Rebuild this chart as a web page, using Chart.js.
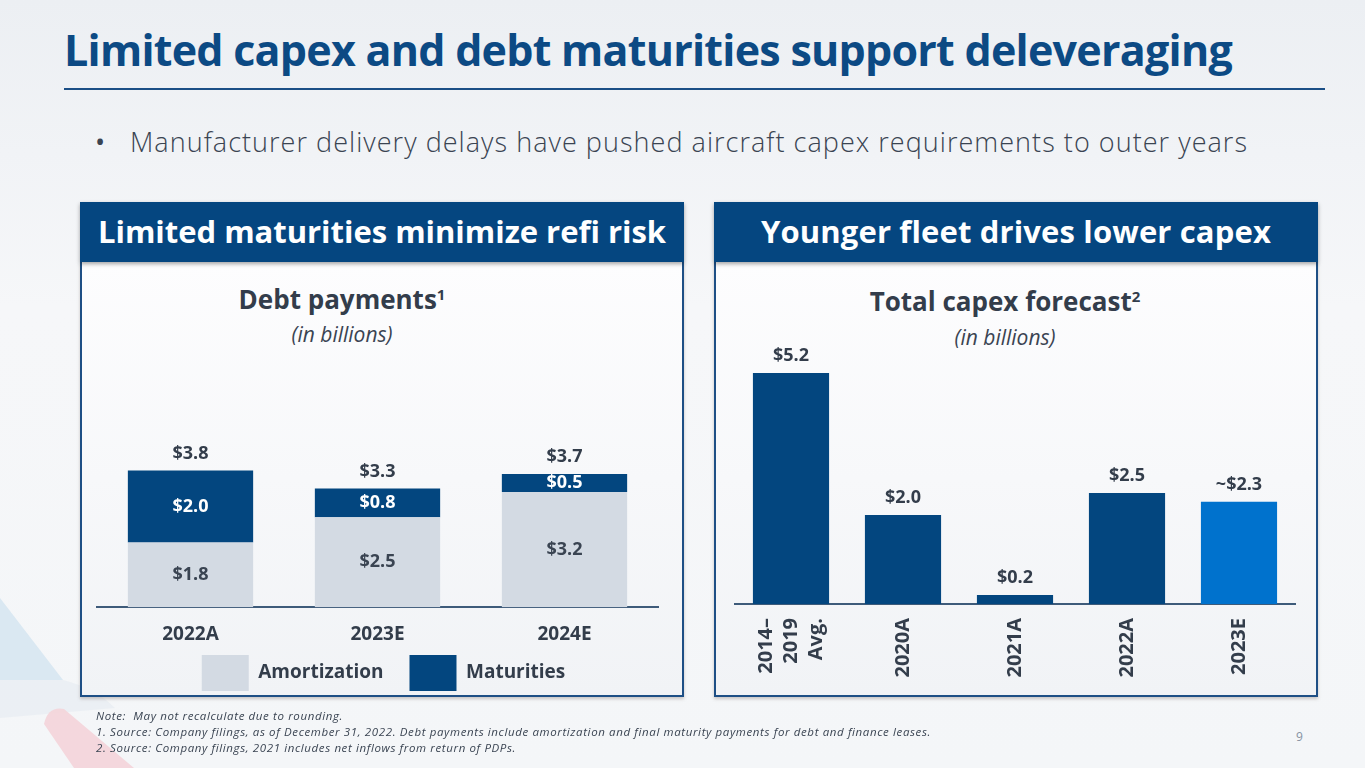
<!DOCTYPE html>
<html lang="en">
<head>
<meta charset="UTF-8">
<title>Limited capex and debt maturities support deleveraging</title>
<script src="https://cdn.jsdelivr.net/npm/chart.js"></script>
<style>
    body { margin: 0; width: 1365px; height: 768px; overflow: hidden; font-family: "Open Sans", sans-serif; }
    #slide { position: relative; width: 1365px; height: 768px; overflow: hidden;
        background: linear-gradient(180deg, #eceff3 0%, #f6f7f9 40%, #f4f6f8 100%); }
    .abs { position: absolute; white-space: nowrap; }
    #titulo { left: 64px; top: 28px; font-size: 43px; line-height: 44px; font-weight: 700; color: #0c4a84; }
    #linha { left: 64px; top: 88px; width: 1261px; height: 2px; background: #1b4f86; }
    #bullet { left: 95px; top: 124px; font-size: 27px; line-height: 36px; color: #3a4452; }
    #bullet .txt { position: absolute; left: 35px; font-weight: 300; }
    .cab { height: 60px; width: 604px; top: 202px; background: #054680; color: #fff; text-align: center;
        font-size: 31px; line-height: 58px; font-weight: 700; box-shadow: 0 2px 4px rgba(0,0,0,.35); z-index: 2; }
    .painel { top: 262px; width: 600px; height: 433px; border: 2px solid #1e4f85; border-top: none;
        background: linear-gradient(180deg, #fdfdfe 0%, #f1f3f6 100%); box-shadow: 0 2px 3px rgba(120,110,100,.35); }
    .titgraf { text-align: center; font-size: 26px; font-weight: 700; color: #333d4b; line-height: 30px; }
    .subgraf { text-align: center; font-size: 21px; font-style: italic; color: #3a4452; line-height: 28px; }
    .nota { left: 96px; font-size: 11.5px; font-style: italic; color: #3a4452; line-height: 16px; }
    canvas { position: absolute; }
</style>
</head>
<body>
<div id="slide">
    <svg class="abs" style="left:0;top:568px" width="200" height="200">
        <polygon points="0,30 63,112 0,112" fill="#d5e5f1" opacity="0.85"/>
        <path d="M0,112 L63,112 Q95,120 115,140 L0,150 Z" fill="#e9edf2" opacity="0.8"/>
        <path d="M44,156 Q48,138 64,141 L134,200 L74,200 Z" fill="#f4d4d9" opacity="0.9"/>
    </svg>

    <div id="titulo" class="abs"><span>Limited capex and debt maturities support deleveraging</span></div>
    <div id="linha" class="abs"></div>
    <div id="bullet" class="abs">•<span class="txt">Manufacturer delivery delays have pushed aircraft capex requirements to outer years</span></div>

    <div class="abs painel" style="left:80px"></div>
    <div class="abs cab" style="left:80px"><span id="cab1">Limited maturities minimize refi risk</span></div>
    <div class="abs titgraf" style="left:80px;width:524px;top:284px">Debt payments<sup style="font-size:15px;vertical-align:9px;line-height:0">1</sup></div>
    <div class="abs subgraf" style="left:80px;width:524px;top:320px">(in billions)</div>
    <canvas id="divida" style="left:88px;top:420px;width:584px;height:314px"></canvas>

    <div class="abs painel" style="left:714px"></div>
    <div class="abs cab" style="left:714px"><span id="cab2">Younger fleet drives lower capex</span></div>
    <div class="abs titgraf" style="left:714px;width:582px;top:286px">Total capex forecast<sup style="font-size:15px;vertical-align:9px;line-height:0">2</sup></div>
    <div class="abs subgraf" style="left:714px;width:582px;top:323px">(in billions)</div>
    <canvas id="capex" style="left:722px;top:340px;width:588px;height:350px"></canvas>

    <div class="abs nota" style="top:708px"><span class="n">Note:&nbsp; May not recalculate due to rounding.</span></div>
    <div class="abs nota" style="top:724px"><span class="n" id="nota1">1. Source: Company filings, as of December 31, 2022. Debt payments include amortization and final maturity payments for debt and finance leases.</span></div>
    <div class="abs nota" style="top:740px"><span class="n">2. Source: Company filings, 2021 includes net inflows from return of PDPs.</span></div>
    <div class="abs" style="left:1296px;top:728px;font-size:12px;color:#8792a2">9</div>
</div>

<script>
    // dados - pagamentos de divida
    const anosDivida = ['2022A', '2023E', '2024E'];
    const amortizacao = [1.8, 2.5, 3.2];
    const vencimentos = [2.0, 0.8, 0.5];
    const totaisDivida = ['$3.8', '$3.3', '$3.7'];

    // dados - capex
    const anosCapex = [['2014–', '2019', 'Avg.'], '2020A', '2021A', '2022A', '2023E'];
    const capex = [5.2, 2.0, 0.2, 2.5, 2.3];
    const rotulosCapex = ['$5.2', '$2.0', '$0.2', '$2.5', '~$2.3'];

    const azul = '#03467f';
    const cinzaTexto = '#333d4b';
    const fonte = '"Open Sans", sans-serif';

    function ajustarLargura(el, alvo) {
        el.style.letterSpacing = '0px';
        const w = el.getBoundingClientRect().width;
        const ls = (alvo - w) / el.textContent.length;
        el.style.letterSpacing = ls + 'px';
        return ls;
    }

    ajustarLargura(document.querySelector('#titulo span'), 1168);
    ajustarLargura(document.querySelector('#bullet .txt'), 1118);
    ajustarLargura(document.getElementById('cab1'), 568);
    ajustarLargura(document.getElementById('cab2'), 510);
    const lsNota = ajustarLargura(document.getElementById('nota1'), 835);
    document.querySelectorAll('.n').forEach(function (s) { s.style.letterSpacing = lsNota + 'px'; });

    const rotulosDivida = {
        id: 'rotulosDivida',
        afterLayout(chart) {
            // aproxima a legenda dos rotulos do eixo
            const lg = chart.legend;
            lg.top -= 33; lg.bottom -= 33;
            lg.left += 6; lg.right += 6;
        },
        afterDatasetsDraw(chart) {
            const ctx = chart.ctx;
            const am = chart.getDatasetMeta(0).data;
            const ve = chart.getDatasetMeta(1).data;
            ctx.save();
            ctx.font = '700 18px ' + fonte;
            ctx.textAlign = 'center';
            ctx.textBaseline = 'middle';
            for (let i = 0; i < am.length; i++) {
                ctx.fillStyle = '#3a4452';
                ctx.fillText('$' + amortizacao[i].toFixed(1), am[i].x, (am[i].y + am[i].base) / 2);
                ctx.fillStyle = '#ffffff';
                ctx.fillText('$' + vencimentos[i].toFixed(1), ve[i].x, (ve[i].y + ve[i].base) / 2);
                ctx.fillStyle = cinzaTexto;
                ctx.fillText(totaisDivida[i], ve[i].x, ve[i].y - 17);
            }
            ctx.restore();
        }
    };

    new Chart(document.getElementById('divida'), {
        type: 'bar',
        data: {
            labels: anosDivida,
            datasets: [
                { label: 'Amortization', data: amortizacao, backgroundColor: '#d3dae3' },
                { label: 'Maturities', data: vencimentos, backgroundColor: azul }
            ]
        },
        options: {
            responsive: false,
            animation: false,
            layout: { padding: { left: 9, right: 14, top: 36, bottom: 0 } },
            datasets: { bar: { barPercentage: 0.67, categoryPercentage: 1 } },
            plugins: {
                tooltip: { enabled: false },
                legend: {
                    position: 'bottom',
                    labels: {
                        boxWidth: 47, boxHeight: 36, padding: 26,
                        color: cinzaTexto, font: { family: fonte, size: 19, weight: '700' }
                    }
                }
            },
            scales: {
                x: {
                    stacked: true,
                    grid: { display: false, drawTicks: false },
                    border: { display: true, color: '#3e5b7a', width: 2 },
                    ticks: { color: cinzaTexto, padding: 16, font: { family: fonte, size: 19, weight: '700' } }
                },
                y: { stacked: true, display: false, min: 0, max: 4.2 }
            }
        },
        plugins: [rotulosDivida]
    });

    const rotulosCapexPlugin = {
        id: 'rotulosCapex',
        afterDraw(chart) {
            const ctx = chart.ctx;
            const xs = chart.scales.x;
            const barras = chart.getDatasetMeta(0).data;
            ctx.save();
            ctx.fillStyle = cinzaTexto;
            ctx.textAlign = 'center';
            ctx.textBaseline = 'middle';
            ctx.font = '700 18px ' + fonte;
            barras.forEach(function (b, i) {
                ctx.fillText(rotulosCapex[i], b.x, b.y - 17);
            });
            // rotulos do eixo x girados
            ctx.font = '700 20px ' + fonte;
            ctx.textAlign = 'right';
            anosCapex.forEach(function (lab, i) {
                const linhas = Array.isArray(lab) ? lab : [lab];
                const cx = xs.getPixelForValue(i);
                linhas.forEach(function (ln, j) {
                    const x = cx + (j - (linhas.length - 1) / 2) * 25;
                    ctx.save();
                    ctx.translate(x, chart.chartArea.bottom + 14);
                    ctx.rotate(-Math.PI / 2);
                    ctx.fillText(ln, 0, 0);
                    ctx.restore();
                });
            });
            ctx.restore();
        }
    };

    new Chart(document.getElementById('capex'), {
        type: 'bar',
        data: {
            labels: anosCapex,
            datasets: [{
                label: 'Total capex',
                data: capex,
                backgroundColor: function (c) { return c.dataIndex === capex.length - 1 ? '#0072cd' : azul; },
                barPercentage: 0.68,
                categoryPercentage: 1
            }]
        },
        options: {
            responsive: false,
            animation: false,
            layout: { padding: { left: 13, right: 15, top: 24, bottom: 86 } },
            plugins: { legend: { display: false }, tooltip: { enabled: false } },
            scales: {
                x: {
                    grid: { display: false, drawTicks: false },
                    border: { display: true, color: '#3e5b7a', width: 2 },
                    ticks: { display: false }
                },
                y: { display: false, min: 0, max: 5.4 }
            }
        },
        plugins: [rotulosCapexPlugin]
    });
</script>
</body>
</html>
